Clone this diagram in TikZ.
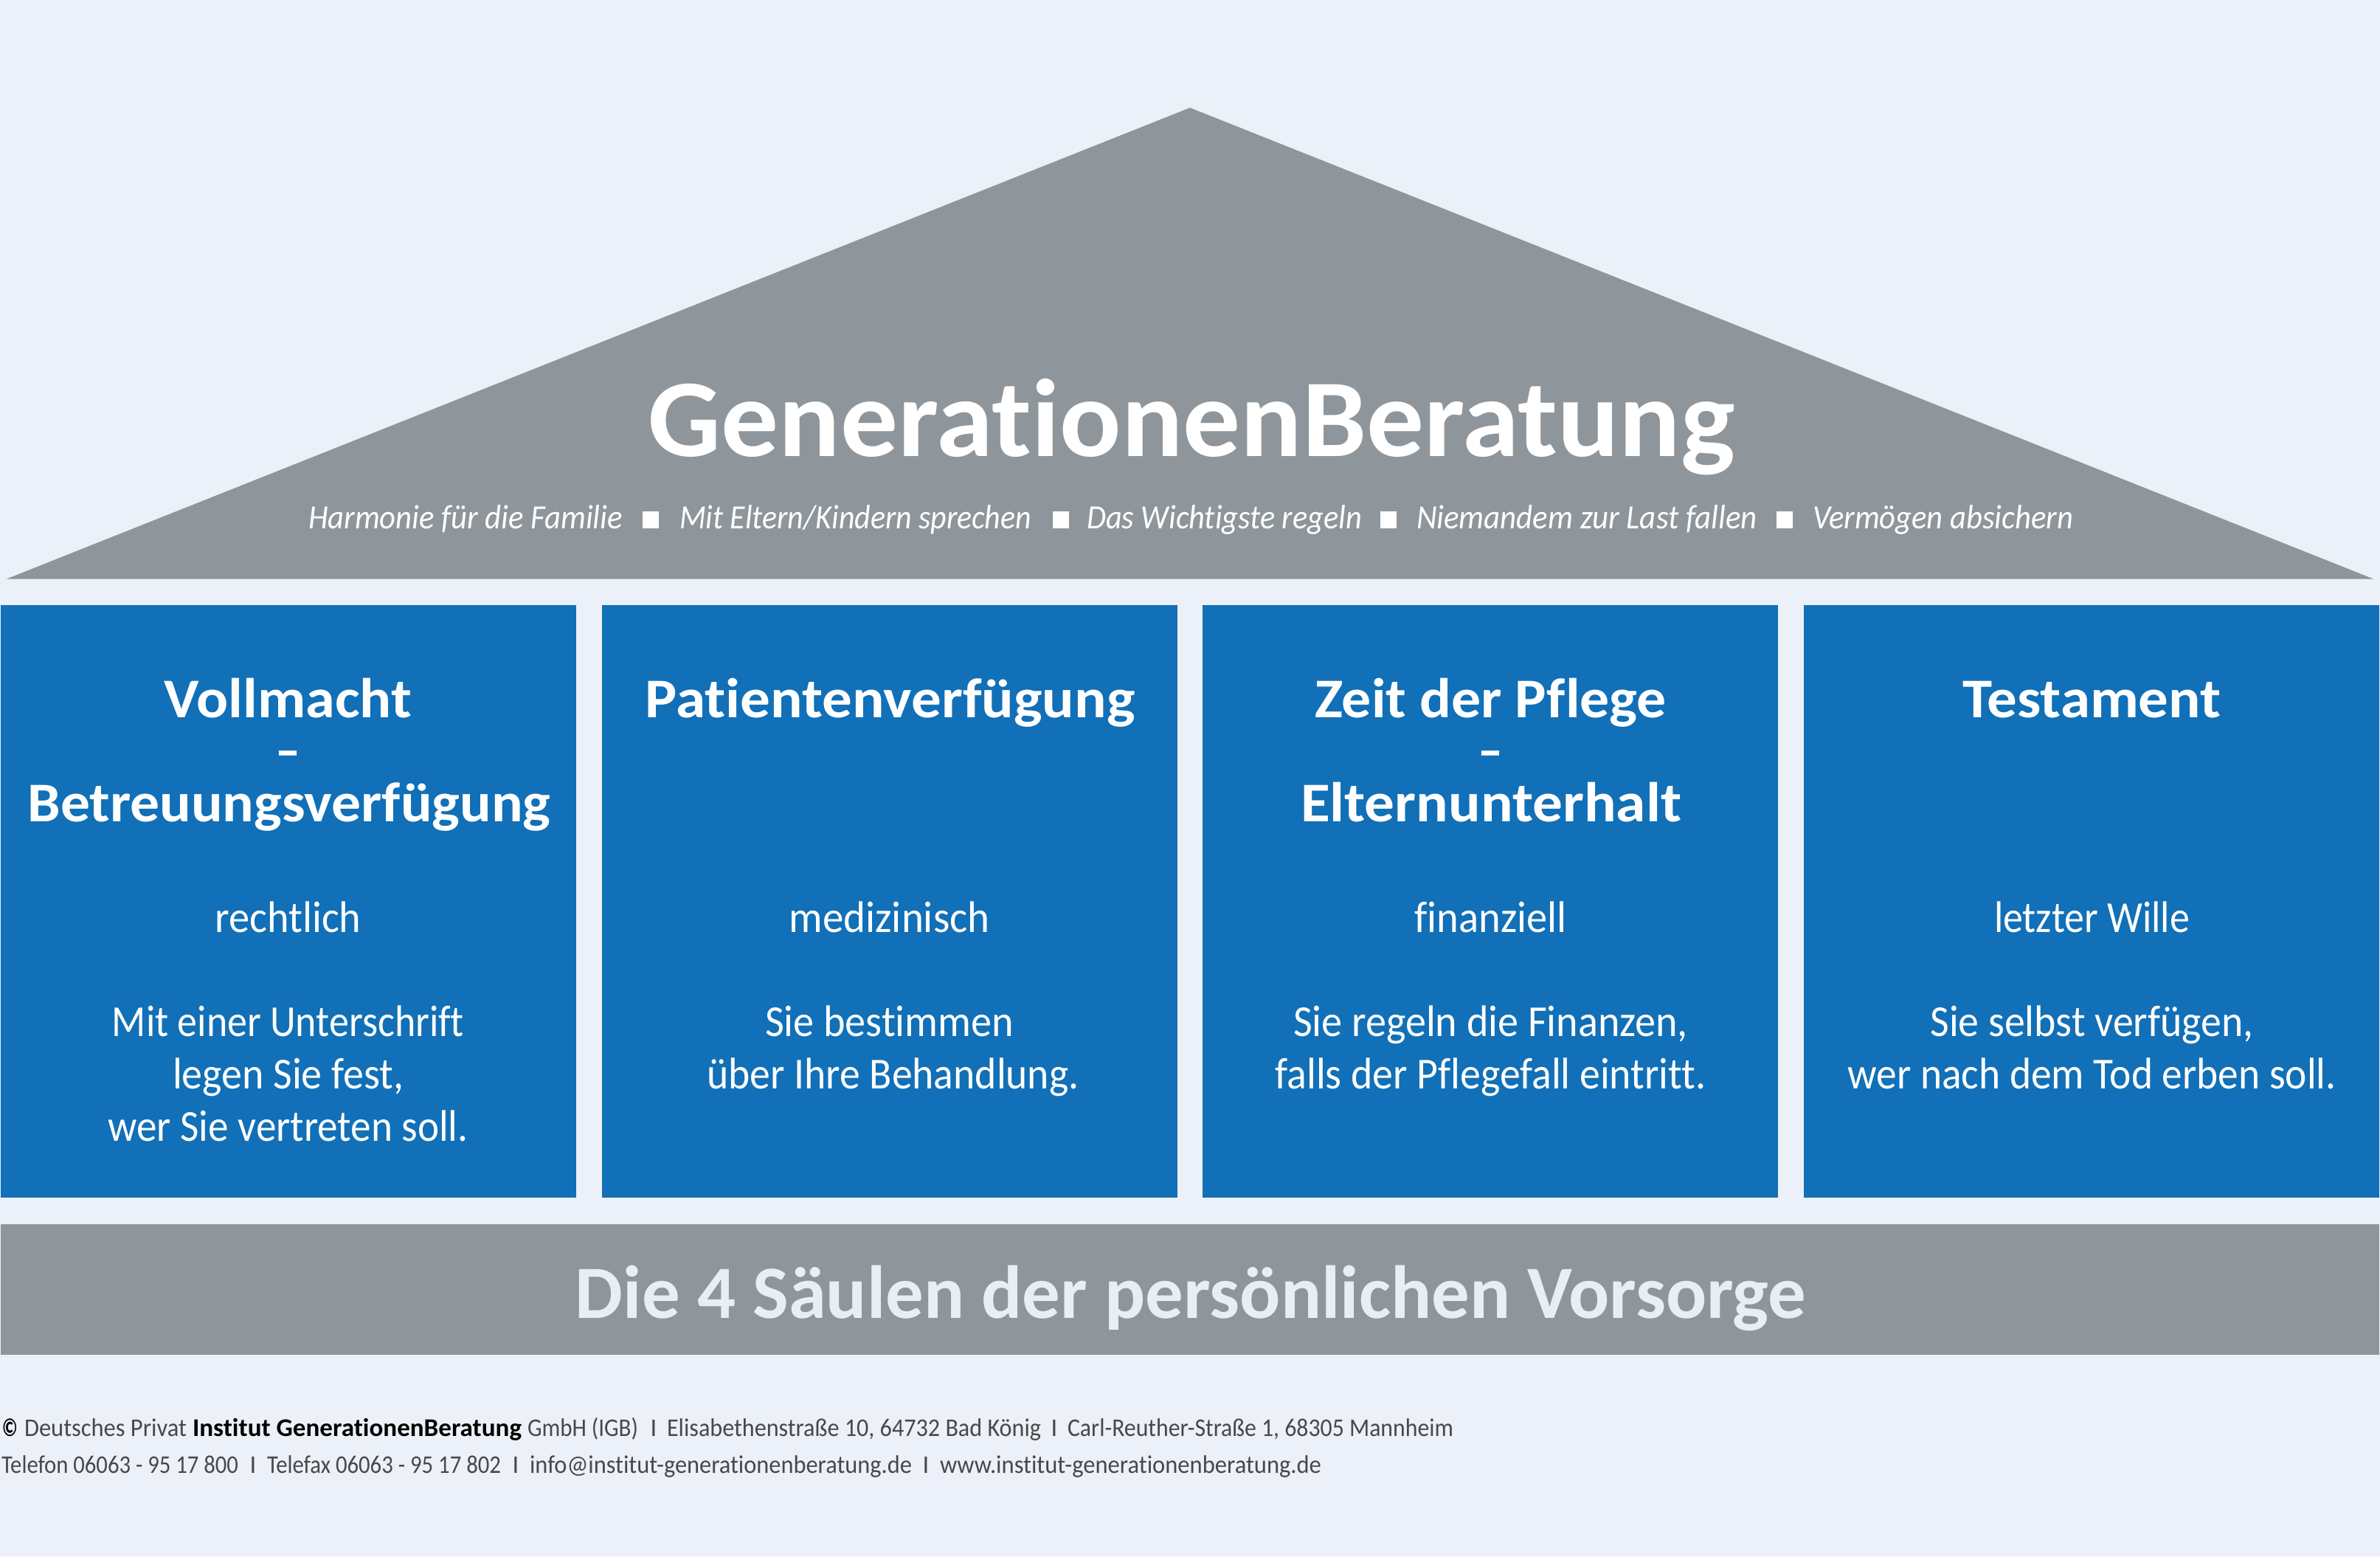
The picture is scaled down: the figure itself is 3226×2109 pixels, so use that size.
\documentclass[tikz,border=0pt]{standalone}
\usepackage{fontspec}
\usepackage{graphicx}
\setmainfont[Ligatures=NoCommon]{Carlito}
\definecolor{bgc}{HTML}{ECF0F8}
\definecolor{roofc}{HTML}{8F969B}
\definecolor{bluec}{HTML}{1170B7}
\definecolor{bandt}{HTML}{E9EDF4}
\definecolor{foot}{HTML}{484848}
\newdimen\pxu \pxu=0.5pt
\newcommand\fitw[2]{\resizebox{#1\pxu}{\height}{#2}}
\tikzset{
  lbl/.style={anchor=base,inner sep=0pt,outer sep=0pt,text=white},
  head/.style={lbl,font=\fontsize{38}{38}\selectfont\bfseries},
  body/.style={lbl,font=\fontsize{30}{30}\selectfont},
  sub/.style={lbl,font=\fontsize{23}{23}\selectfont\itshape},
  sep/.style={fill=white,draw=none,minimum width=10.75pt,minimum height=11.5pt,inner sep=0pt},
  pillar/.style={fill=bluec,draw=none,minimum width=390pt,minimum height=401.75pt,inner sep=0pt},
  foottext/.style={anchor=base west,inner sep=0pt,outer sep=0pt,text=foot,font=\fontsize{17.25}{17.25}\selectfont},
  footbold/.style={foottext,text=black,font=\fontsize{17.25}{17.25}\selectfont\bfseries},
  footbar/.style={foottext,anchor=base},
}
\begin{document}
\begin{tikzpicture}[x=0.5pt,y=-0.5pt]
\useasboundingbox (0,0) rectangle (3226,2109);
\fill[bgc] (0,0) rectangle (3226,2109);
\fill[roofc] (9,784.5) -- (1613,146) -- (3217,784.5) -- cycle;
\node[pillar] (p1) at (391,1221.25) {};
\node[pillar] (p2) at (1205.67,1221.25) {};
\node[pillar] (p3) at (2020.33,1221.25) {};
\node[pillar] (p4) at (2835,1221.25) {};
\node[fill=roofc,draw=none,minimum width=1612pt,minimum height=88.5pt,inner sep=0pt] (band) at (1613,1747) {};
% roof text
\node[lbl,font=\fontsize{75}{75}\selectfont\bfseries] (title) at (1615,618) {\fitw{1473}{GenerationenBeratung}};
\node[sub] (s1) at (631,716) {\fitw{426}{Harmonie für die Familie}};
\node[sub] (s2) at (1159.5,716) {\fitw{477}{Mit Eltern/Kindern sprechen}};
\node[sub] (s3) at (1659.5,716) {\fitw{373}{Das Wichtigste regeln}};
\node[sub] (s4) at (2151,716) {\fitw{462}{Niemandem zur Last fallen}};
\node[sub] (s5) at (2633.5,716) {\fitw{353}{Vermögen absichern}};
\node[sep] (q1) at (882,704.5) {};
\node[sep] (q2) at (1438,704.5) {};
\node[sep] (q3) at (1882,704.5) {};
\node[sep] (q4) at (2419,704.5) {};
% pillar 1
\node[head] (a1) at (390.5,972) {\fitw{335}{Vollmacht}};
\node[head] (a2) at (390.5,1042) {\fitw{34}{–}};
\node[head] (a3) at (392,1113) {\fitw{709}{Betreuungsverfügung}};
\node[body] (a4) at (390.5,1263) {\fitw{198}{rechtlich}};
\node[body] (a5) at (390.5,1404) {\fitw{477}{Mit einer Unterschrift}};
\node[body] (a6) at (390.5,1475) {\fitw{313}{legen Sie fest,}};
\node[body] (a7) at (390.5,1546) {\fitw{488}{wer Sie vertreten soll.}};
% pillar 2
\node[head] (b1) at (1206.5,972) {\fitw{664}{Patientenverfügung}};
\node[body] (b4) at (1205.5,1263) {\fitw{272}{medizinisch}};
\node[body] (b5) at (1205.5,1404) {\fitw{337}{Sie bestimmen}};
\node[body] (b6) at (1210.5,1475) {\fitw{504}{über Ihre Behandlung.}};
% pillar 3
\node[head] (c1) at (2020.5,972) {\fitw{477}{Zeit der Pflege}};
\node[head] (c2) at (2020.5,1042) {\fitw{34}{–}};
\node[head] (c3) at (2021,1113) {\fitw{516}{Elternunterhalt}};
\node[body] (c4) at (2020.5,1263) {\fitw{206}{finanziell}};
\node[body] (c5) at (2020.5,1404) {\fitw{535}{Sie regeln die Finanzen,}};
\node[body] (c6) at (2020.5,1475) {\fitw{584}{falls der Pflegefall eintritt.}};
% pillar 4
\node[head] (d1) at (2835.5,972) {\fitw{350}{Testament}};
\node[body] (d4) at (2835.5,1263) {\fitw{265}{letzter Wille}};
\node[body] (d5) at (2835.5,1404) {\fitw{438}{Sie selbst verfügen,}};
\node[body] (d6) at (2835.5,1475) {\fitw{662}{wer nach dem Tod erben soll.}};
% band
\node[lbl,text=bandt,font=\fontsize{51}{51}\selectfont\bfseries] (bt) at (1614,1786) {\fitw{1668}{Die 4 Säulen der persönlichen Vorsorge}};
% footer line 1
\node[footbold] (f1a) at (3,1946) {\fitw{21}{©}};
\node[foottext] (f1b) at (33,1946) {\fitw{220}{Deutsches Privat}};
\node[footbold] (f1c) at (261,1946) {\fitw{446}{Institut GenerationenBeratung}};
\node[foottext] (f1d) at (715,1946) {\fitw{150}{GmbH (IGB)}};
\node[footbar] (f1e) at (886,1946) {I};
\node[foottext] (f1f) at (904,1946) {\fitw{507}{Elisabethenstraße 10, 64732 Bad König}};
\node[footbar] (f1g) at (1429,1946) {I};
\node[foottext] (f1h) at (1447,1946) {\fitw{523}{Carl-Reuther-Straße 1, 68305 Mannheim}};
% footer line 2
\node[foottext] (f2a) at (2,1996) {\fitw{321}{Telefon 06063 - 95 17 800}};
\node[footbar] (f2b) at (343,1996) {I};
\node[foottext] (f2c) at (362,1996) {\fitw{317}{Telefax 06063 - 95 17 802}};
\node[footbar] (f2d) at (699,1996) {I};
\node[foottext] (f2e) at (718,1996) {\fitw{518}{info@institut-generationenberatung.de}};
\node[footbar] (f2f) at (1255,1996) {I};
\node[foottext] (f2g) at (1274,1996) {\fitw{517}{www.institut-generationenberatung.de}};
\end{tikzpicture}
\end{document}
